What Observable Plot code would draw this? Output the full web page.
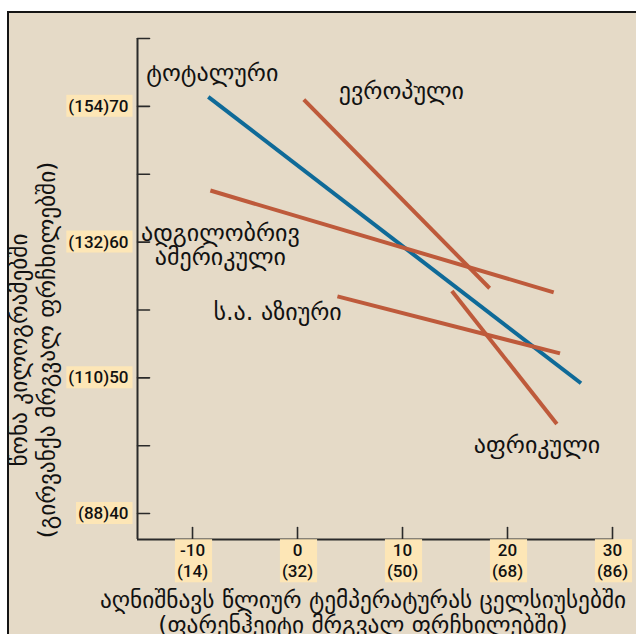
<!DOCTYPE html>
<html>
<head>
<meta charset="utf-8">
<script src="https://cdn.jsdelivr.net/npm/d3@7"></script>
<script src="https://cdn.jsdelivr.net/npm/@observablehq/plot@0.6"></script>
<style>
  html, body { margin: 0; padding: 0; background: #ffffff; overflow: hidden; width: 636px; height: 634px; }
  #wrap { position: absolute; left: 7px; top: 11px; width: 640px; height: 640px;
          border-left: 2px solid #151515; border-top: 2px solid #151515; background: #e5dac7; overflow: hidden; }
</style>
</head>
<body>
<div id="wrap"></div>
<script>
// ---- data ----
const seriesNames = ["ტოტალური", "ევროპული", "ადგილობრივ ამერიკული", "ს.ა. აზიური", "აფრიკული"];
const startTemp = [-8.5, 0.6, -8.3, 3.8, 14.7];   // °C
const startWeight = [70.7, 70.5, 63.8, 56.0, 56.4]; // kg
const endTemp = [27.0, 18.3, 24.4, 25.0, 24.7];
const endWeight = [49.6, 56.6, 56.3, 51.8, 46.6];
const xTickC = [-10, 0, 10, 20, 30];
const xTickF = [14, 32, 50, 68, 86];
const yTicks = [40, 45, 50, 55, 60, 65, 70, 75];
const yLabelKg = [40, 50, 60, 70];
const yLabelLb = [88, 110, 132, 154];
const xTitle = "აღნიშნავს წლიურ ტემპერატურას ცელსიუსებში\n(ფარენჰეიტი მრგვალ ფრჩხილებში)";
const yTitle = "წონა კილოგრამებში\n(გირვანქა მრგვალ ფრჩხილებში)";

// ---- label layout (pixels) ----
const labelLines = ["ტოტალური", "ევროპული", "ადგილობრივ\nამერიკული", "ს.ა. აზიური", "აფრიკული"];
const labelAt = ["start", "start", "start", "start", "end"];
const labelAnchor = ["start", "start", "middle", "start", "start"];
const labelDx = [-62, 35, 10, -124, -83];
const labelDy = [-24, -8, 55, 16, 21];

const BLUE = "#0f6a98";
const RED = "#be5a3b";
const colors = [BLUE, RED, RED, RED, RED];

const lines = seriesNames.map((name, i) => ({
  name, x1: startTemp[i], y1: startWeight[i], x2: endTemp[i], y2: endWeight[i], color: colors[i],
  label: labelLines[i],
  lx: labelAt[i] === "start" ? startTemp[i] : endTemp[i],
  ly: labelAt[i] === "start" ? startWeight[i] : endWeight[i],
  anchor: labelAnchor[i], dx: labelDx[i], dy: labelDy[i]
}));

const xLabels = xTickC.map((c, i) => ({c, f: xTickF[i]}));
const yLabels = yLabelKg.map((k, i) => ({k, lb: yLabelLb[i]}));

const GEO = "'DejaVu Sans', sans-serif";
const NUM = "Roboto, 'Liberation Sans', sans-serif";
const XMIN = -15.24, XMAX = 30, YMIN = 38.09, YMAX = 75;

const labelMarks = lines.map(d => Plot.text([d], {
  x: "lx", y: "ly", text: "label", textAnchor: d.anchor, dx: d.dx, dy: d.dy,
  fontFamily: GEO, fontSize: 24, fill: "#111", lineHeight: 1.0
}));

const chart = Plot.plot({
  width: 627, height: 621,
  marginLeft: 128, marginRight: 24, marginTop: 25, marginBottom: 95,
  style: {background: "transparent", overflow: "hidden"},
  x: {domain: [XMIN, XMAX], axis: null},
  y: {domain: [YMIN, YMAX], axis: null},
  marks: [
    Plot.ruleX([XMIN], {stroke: "#2a2a2a", strokeWidth: 2}),
    Plot.ruleY([YMIN], {stroke: "#2a2a2a", strokeWidth: 2}),
    Plot.vector(yTicks, {x: XMIN, y: d => d, length: 12, rotate: 90, anchor: "start",
      stroke: "#2a2a2a", strokeWidth: 1.6,
      shape: {draw(ctx, l) { ctx.moveTo(0, 0); ctx.lineTo(0, -l); }}}),
    Plot.vector(xTickC, {x: d => d, y: YMIN, length: 12, rotate: 0, anchor: "start",
      stroke: "#2a2a2a", strokeWidth: 1.6,
      shape: {draw(ctx, l) { ctx.moveTo(0, 0); ctx.lineTo(0, -l); }}}),
    Plot.link(lines, {x1: "x1", y1: "y1", x2: "x2", y2: "y2", stroke: "color",
      strokeWidth: 4, strokeLinecap: "butt"}),
    ...labelMarks,
    Plot.text(yLabels, {y: "k", frameAnchor: "left", text: d => `(${d.lb})${d.k}`,
      textAnchor: "end", dx: -9, fontFamily: NUM, fontSize: 17, fontWeight: 500, fill: "#111"}),
    Plot.text(xLabels, {x: "c", frameAnchor: "bottom", text: d => `${d.c}\n(${d.f})`,
      textAnchor: "middle", lineAnchor: "middle", dy: 20.5, lineHeight: 1.24,
      fontFamily: NUM, fontSize: 17, fontWeight: 500, fill: "#111"}),
    Plot.text([xTitle], {frameAnchor: "bottom", textAnchor: "middle", dx: -12, dy: 73, lineAnchor: "middle",
      lineHeight: 1.08, fontFamily: GEO, fontSize: 23.3, fill: "#111"}),
    Plot.text([yTitle], {frameAnchor: "left", textAnchor: "middle", rotate: -90, dx: -105, dy: 61,
      lineAnchor: "middle", lineHeight: 1.2, fontFamily: GEO, fontSize: 23.3, fill: "#111"})
  ]
});

document.getElementById("wrap").appendChild(chart);

// yellow backgrounds behind the numeric tick labels
d3.select(chart).selectAll("g")
  .filter(function () { return (this.getAttribute("font-family") || "").startsWith("Roboto"); })
  .selectAll("text").each(function () {
    const b = this.getBBox();
    d3.select(this.parentNode).insert("rect", () => this)
      .attr("transform", this.getAttribute("transform"))
      .attr("x", b.x - 2).attr("y", b.y - 1)
      .attr("width", b.width + 6).attr("height", b.height + 2)
      .attr("fill", "#fde6b6");
  });
</script>
</body>
</html>
